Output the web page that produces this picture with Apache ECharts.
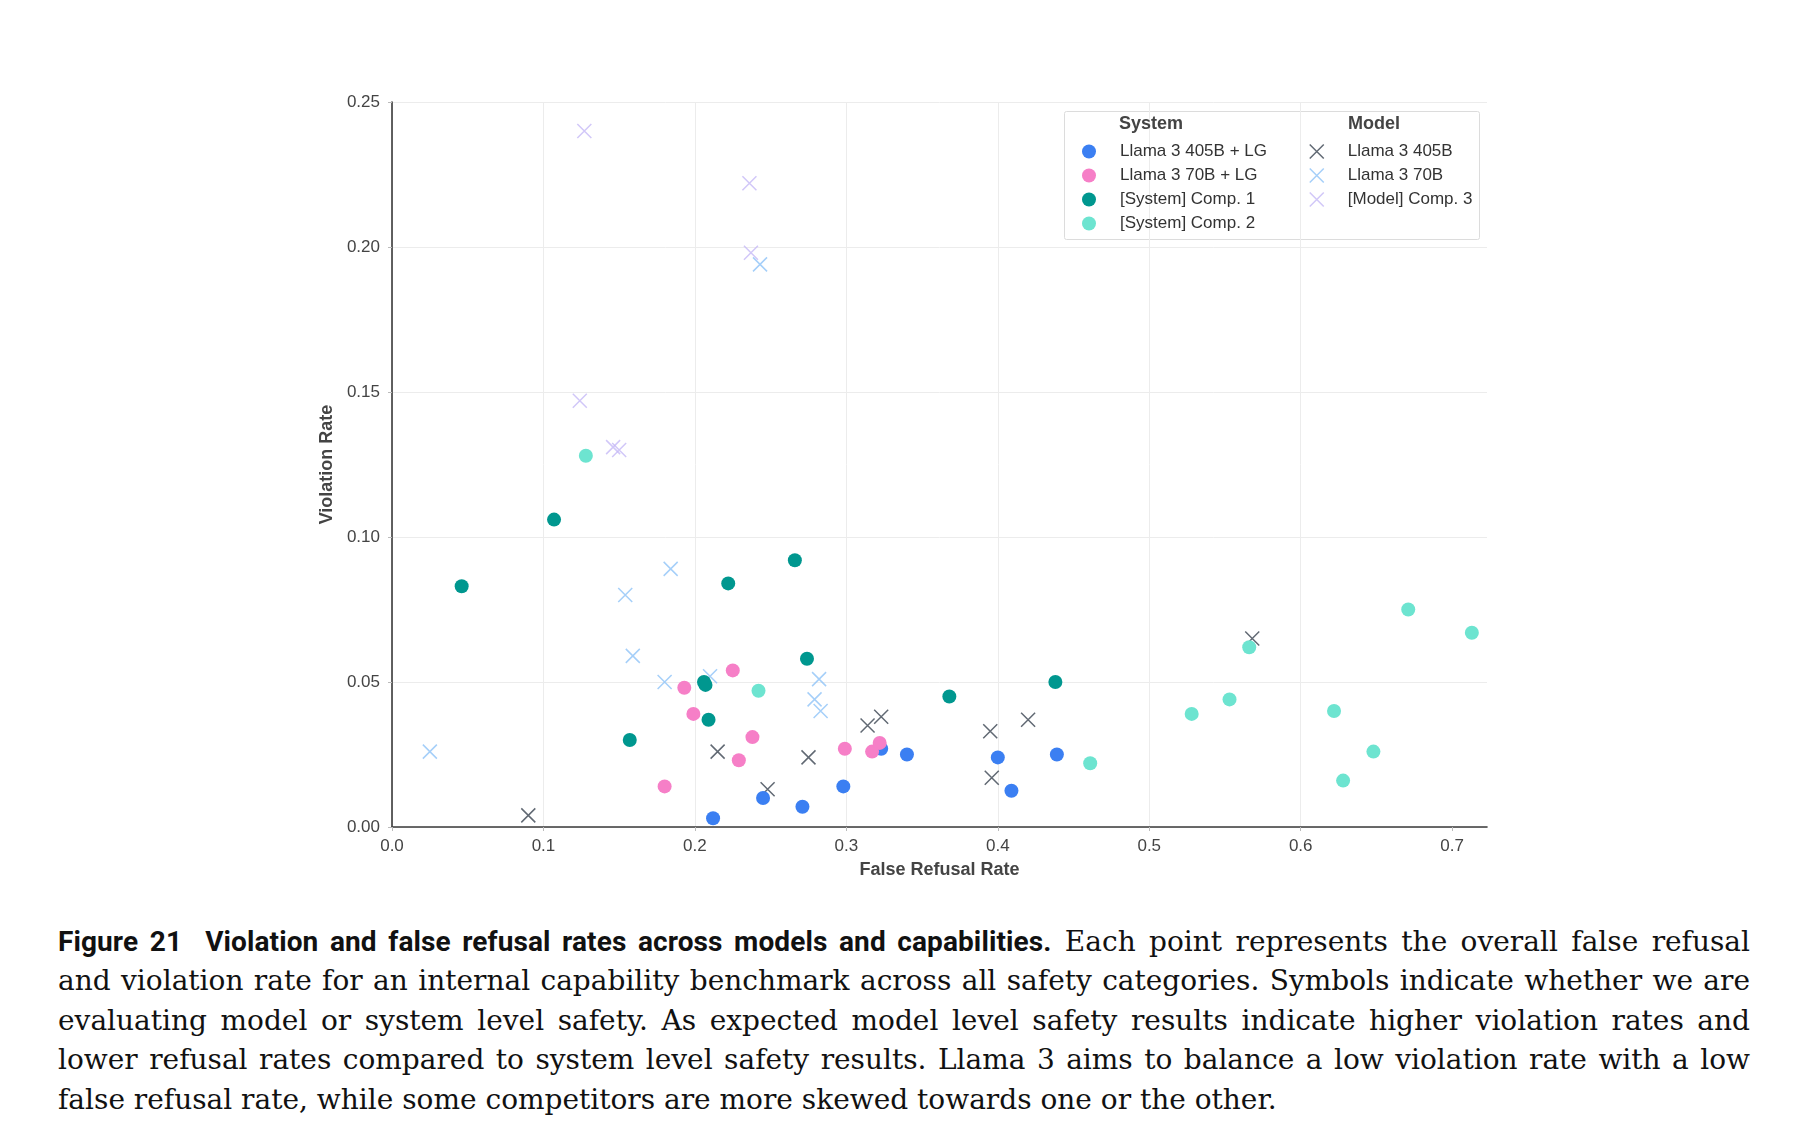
<!DOCTYPE html>
<html><head><meta charset="utf-8">
<script src="https://cdn.jsdelivr.net/npm/echarts@6/dist/echarts.min.js"></script>
<style>
html,body{margin:0;padding:0;background:#fff;width:1817px;height:1146px;overflow:hidden}
#chart{position:absolute;left:0;top:0;width:1817px;height:900px}
#caption{position:absolute;left:58px;top:922px;width:1692px;font-family:"DejaVu Serif",serif;font-size:28px;color:#111}
.ln{height:39.4px;line-height:39.4px;text-align:justify;text-align-last:justify;white-space:nowrap}
.ln.last{text-align-last:left}
.b{font-family:Roboto,"Liberation Sans",sans-serif;font-weight:700;font-size:28px;letter-spacing:0.1px}
</style></head>
<body>
<div id="chart"></div>
<div id="caption">
<div class="ln"><span class="b">Figure 21&nbsp; Violation and false refusal rates across models and capabilities.</span> Each point represents the overall false refusal</div>
<div class="ln">and violation rate for an internal capability benchmark across all safety categories. Symbols indicate whether we are</div>
<div class="ln">evaluating model or system level safety. As expected model level safety results indicate higher violation rates and</div>
<div class="ln">lower refusal rates compared to system level safety results. Llama 3 aims to balance a low violation rate with a low</div>
<div class="ln last">false refusal rate, while some competitors are more skewed towards one or the other.</div>
</div>
<script>
// ---- data: [False Refusal Rate, Violation Rate] ----
const llama405LG = [[0.212,0.003],[0.245,0.010],[0.271,0.007],[0.298,0.014],[0.323,0.027],[0.340,0.025],[0.400,0.024],[0.409,0.0125],[0.439,0.025]];
const llama70LG = [[0.180,0.014],[0.193,0.048],[0.199,0.039],[0.225,0.054],[0.229,0.023],[0.238,0.031],[0.299,0.027],[0.317,0.026],[0.322,0.029]];
const sysComp1 = [[0.046,0.083],[0.107,0.106],[0.157,0.030],[0.206,0.050],[0.207,0.049],[0.209,0.037],[0.222,0.084],[0.266,0.092],[0.274,0.058],[0.368,0.045],[0.438,0.050]];
const sysComp2 = [[0.128,0.128],[0.242,0.047],[0.461,0.022],[0.528,0.039],[0.553,0.044],[0.566,0.062],[0.622,0.040],[0.628,0.016],[0.648,0.026],[0.671,0.075],[0.713,0.067]];
const llama405 = [[0.090,0.004],[0.215,0.026],[0.248,0.013],[0.275,0.024],[0.314,0.035],[0.323,0.038],[0.395,0.033],[0.396,0.017],[0.420,0.037],[0.568,0.065]];
const llama70 = [[0.025,0.026],[0.154,0.080],[0.159,0.059],[0.180,0.050],[0.184,0.089],[0.210,0.052],[0.243,0.194],[0.279,0.044],[0.282,0.051],[0.283,0.040]];
const modelComp3 = [[0.124,0.147],[0.127,0.240],[0.146,0.131],[0.150,0.130],[0.236,0.222],[0.237,0.198]];

const xTicks = [0, 0.1, 0.2, 0.3, 0.4, 0.5, 0.6, 0.7];
const yTicks = [0, 0.05, 0.10, 0.15, 0.20, 0.25];
const systemNames = ['Llama 3 405B + LG', 'Llama 3 70B + LG', '[System] Comp. 1', '[System] Comp. 2'];
const modelNames = ['Llama 3 405B', 'Llama 3 70B', '[Model] Comp. 3'];

// ---- styling ----
const sysColors = ['#3b7ff2', '#f67fc7', '#00978f', '#6de4d0'];
const modelColors = ['#3a4350', '#8fc3f8', '#c5b9f6'];
const sysData = [llama405LG, llama70LG, sysComp1, sysComp2];
const modelData = [llama405, llama70, modelComp3];
const XPATH = 'path://M0,0L10,10M10,0L0,10';

const series = [];
modelData.forEach((d, i) => series.push({
  name: modelNames[i], type: 'scatter', data: d, z: 2,
  symbol: XPATH, symbolSize: 14,
  itemStyle: { color: 'rgba(0,0,0,0)', borderColor: modelColors[i], borderWidth: 1.5 },
  emphasis: { disabled: true }
}));
sysData.forEach((d, i) => series.push({
  name: systemNames[i], type: 'scatter', data: d, z: 3,
  symbol: 'circle', symbolSize: 14,
  itemStyle: { color: sysColors[i], opacity: 1 },
  emphasis: { disabled: true }
}));

const labelFont = { fontFamily: '"Liberation Sans", Arial, sans-serif', fontSize: 17, color: '#444' };
const chart = echarts.init(document.getElementById('chart'), null, { renderer: 'canvas' });
chart.setOption({
  animation: false,
  backgroundColor: '#fff',
  grid: { left: 392, top: 102, width: 1095, height: 725, containLabel: false },
  xAxis: {
    type: 'value', min: 0, max: 0.723, interval: 0.1,
    name: 'False Refusal Rate', nameLocation: 'middle', nameGap: 34,
    nameTextStyle: { fontFamily: '"Liberation Sans", Arial, sans-serif', fontSize: 18, fontWeight: 'bold', color: '#444' },
    axisLine: { show: true, lineStyle: { color: '#3a3a3a', width: 1.6 } },
    axisTick: { show: true, length: 4, lineStyle: { color: '#bbb' }, customValues: xTicks },
    axisLabel: Object.assign({ margin: 11, customValues: xTicks, formatter: v => v.toFixed(1) }, labelFont),
    splitLine: { show: true, showMaxLine: false, lineStyle: { color: '#ececec', width: 1 } }
  },
  yAxis: {
    type: 'value', min: 0, max: 0.25, interval: 0.05,
    name: 'Violation Rate', nameLocation: 'middle', nameGap: 51, nameRotate: 90,
    nameTextStyle: { fontFamily: '"Liberation Sans", Arial, sans-serif', fontSize: 18, fontWeight: 'bold', color: '#444' },
    axisLine: { show: true, lineStyle: { color: '#3a3a3a', width: 1.6 } },
    axisTick: { show: true, length: 4, lineStyle: { color: '#bbb' } },
    axisLabel: Object.assign({ margin: 12, formatter: v => v.toFixed(2) }, labelFont),
    splitLine: { show: true, lineStyle: { color: '#ececec', width: 1 } }
  },
  legend: [
    {
      left: 1077, top: 138, orient: 'vertical', itemWidth: 52, itemHeight: 14, itemGap: 7,
      textStyle: { fontFamily: '"Liberation Sans", Arial, sans-serif', fontSize: 17, color: '#333' },
      selectedMode: false,
      data: systemNames.map((n, i) => ({ name: n, icon: 'circle', itemStyle: { color: sysColors[i] } }))
    },
    {
      left: 1304, top: 138, orient: 'vertical', itemWidth: 52, itemHeight: 14, itemGap: 7,
      textStyle: { fontFamily: '"Liberation Sans", Arial, sans-serif', fontSize: 17, color: '#333' },
      selectedMode: false,
      data: modelNames.map((n, i) => ({ name: n, icon: XPATH, itemStyle: { color: 'rgba(0,0,0,0)', borderColor: modelColors[i], borderWidth: 1.5 } }))
    }
  ],
  graphic: [
    { type: 'rect', left: 1064, top: 111, z: 0, shape: { width: 415, height: 128, r: 2 }, style: { fill: '#fff', stroke: '#dcdcdc', lineWidth: 1 } },
    { type: 'text', left: 1119, top: 115, z: 5, style: { text: 'System', font: 'bold 18px "Liberation Sans", Arial, sans-serif', fill: '#444' } },
    { type: 'text', left: 1348, top: 115, z: 5, style: { text: 'Model', font: 'bold 18px "Liberation Sans", Arial, sans-serif', fill: '#444' } }
  ],
  series: series
});
</script>
</body></html>
